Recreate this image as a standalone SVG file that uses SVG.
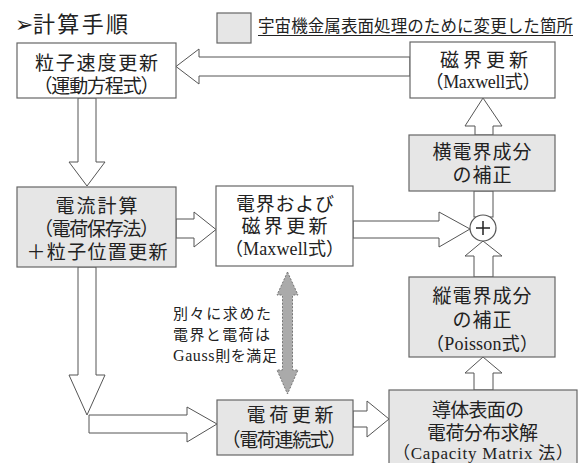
<svg xmlns="http://www.w3.org/2000/svg" width="583" height="463" viewBox="0 0 583 463">
<defs>
<style>
.box{stroke:#666;stroke-width:1.2}
.w{fill:#fff}
.g{fill:#e6e6e6}
.arr{fill:#fff;stroke:#555;stroke-width:1}
.t{font-family:"Noto Sans CJK JP","Noto Sans CJK SC",sans-serif;font-size:19px;fill:#222;text-anchor:middle}
.s{font-family:"Liberation Serif","Noto Sans CJK JP",serif;font-size:18px;fill:#222;text-anchor:middle}
.lab{font-family:"Noto Sans CJK JP",sans-serif;font-size:15px;fill:#222}
</style>
</defs>
<rect width="583" height="463" fill="#fff"/>
<text x="15" y="32" style="font-family:'Noto Sans CJK JP',sans-serif;font-size:22px;fill:#222"><tspan style="font-family:'DejaVu Sans',sans-serif;font-size:22px">➢</tspan><tspan x="33" textLength="95">計算手順</tspan></text>
<g id="legend">
<rect x="217" y="13" width="34" height="30" class="box g"/>
<text x="258" y="32" textLength="315" style="font-family:'Noto Sans CJK JP',sans-serif;font-size:16.5px;fill:#222">宇宙機金属表面処理のために変更した箇所</text>
<line x1="258" y1="35.5" x2="573" y2="35.5" stroke="#222" stroke-width="1"/>
</g>
<g id="connectors">
<polygon class="arr" points="410,57 199,57 199,49 176,66.5 199,84 199,76 410,76"/>
<polygon class="arr" points="78,98 78,162 69,162 87,186 105,162 96,162 96,98"/>
<polygon class="arr" points="176,219 194,219 194,212 216,229.5 194,247 194,238 176,238"/>
<polygon class="arr" points="353,221 439,221 439,212 470,229 439,247 439,238 353,238"/>
<rect class="arr" x="474" y="191" width="19" height="26"/>
<polygon class="arr" points="475,135 475,126 465,126 483,98 502,126 493,126 493,135"/>
<polygon class="arr" points="474,277 474,256 465,256 483,241 502,256 493,256 493,277"/>
<polygon class="arr" points="474,390 474,373 465,373 483,357 502,373 493,373 493,390"/>
<polygon class="arr" points="353,411 367,411 367,401 389,419 367,437 367,427 353,427"/>
<polygon class="arr" points="78,267 78,375 69,375 87,415 105,375 96,375 96,267"/>
<polygon class="arr" points="89,415 187,415 187,407 217,424 187,442 187,433 89,433"/>
<polygon points="287.5,272 298,295 292.5,295 292.5,370 298,370 287.5,394 277,370 282.5,370 282.5,295 277,295" fill="#aaa" stroke="#777" stroke-width="1" stroke-dasharray="2,1.5"/>
</g>
<g id="plus">
<circle cx="483" cy="228" r="13" fill="#fff" stroke="#555" stroke-width="1.2"/>
<line x1="476" y1="228" x2="490" y2="228" stroke="#222" stroke-width="1.5"/>
<line x1="483" y1="221" x2="483" y2="235" stroke="#222" stroke-width="1.5"/>
</g>
<g id="n1">
<rect x="17" y="43" width="159" height="55" class="box w"/>
<text class="t" x="96.5" y="70" textLength="123">粒子速度更新</text>
<text class="t" x="96.5" y="93" textLength="126">（運動方程式）</text>
</g>
<g id="n2">
<rect x="410" y="42" width="145" height="56" class="box w"/>
<text class="t" x="484" y="67" textLength="88">磁界更新</text>
<text class="s" x="483" y="88" textLength="115">（Maxwell式）</text>
</g>
<g id="n3">
<rect x="17" y="187" width="159" height="80" class="box g"/>
<text class="t" x="96.5" y="213" textLength="82">電流計算</text>
<text class="t" x="96.5" y="236" textLength="125">（電荷保存法）</text>
<text class="t" x="97" y="259" textLength="141">＋粒子位置更新</text>
</g>
<g id="n4">
<rect x="216" y="186" width="137" height="80" class="box w"/>
<text class="t" x="285" y="211" textLength="98">電界および</text>
<text class="t" x="284.5" y="233" textLength="86">磁界更新</text>
<text class="s" x="284.5" y="255" textLength="119">（Maxwell式）</text>
</g>
<g id="n5">
<rect x="409" y="135" width="146" height="56" class="box g"/>
<text class="t" x="482" y="159" textLength="99">横電界成分</text>
<text class="t" x="482" y="182" textLength="59">の補正</text>
</g>
<g id="n6">
<rect x="409" y="277" width="146" height="80" class="box g"/>
<text class="t" x="482" y="303" textLength="99">縦電界成分</text>
<text class="t" x="482" y="327" textLength="59">の補正</text>
<text class="s" x="482" y="350" textLength="112">（Poisson式）</text>
</g>
<g id="n7">
<rect x="217" y="400" width="136" height="55" class="box g"/>
<text class="t" x="290" y="422" textLength="87">電荷更新</text>
<text class="t" x="284" y="447" textLength="125">（電荷連続式）</text>
</g>
<g id="n8">
<rect x="389" y="390" width="188" height="80" class="box g"/>
<text class="t" x="478" y="417" textLength="92">導体表面の</text>
<text class="t" x="482.5" y="440" textLength="111">電荷分布求解</text>
<text class="s" x="483" y="459" textLength="180" style="font-size:17px">（Capacity Matrix 法）</text>
</g>
<g id="note">
<text class="lab" x="173" y="319" textLength="98">別々に求めた</text>
<text class="lab" x="173" y="340" textLength="97">電界と電荷は</text>
<text class="lab" x="173" y="361" textLength="104"><tspan style="font-family:'Liberation Serif',serif;font-size:16px">Gauss</tspan>則を満足</text>
</g>
</svg>
